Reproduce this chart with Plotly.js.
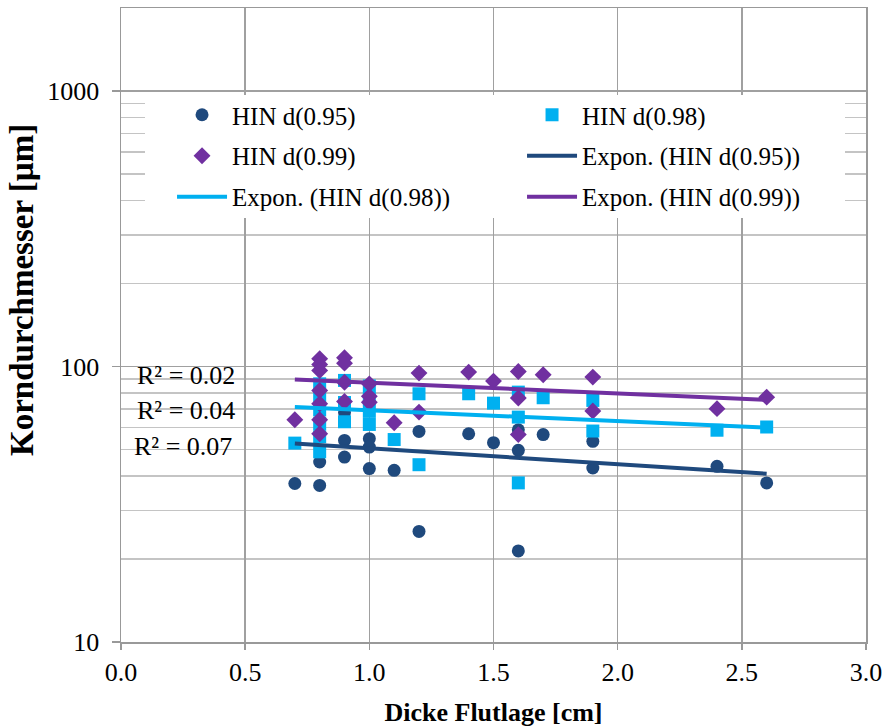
<!DOCTYPE html>
<html><head><meta charset="utf-8">
<script src="https://cdn.plot.ly/plotly-3.0.1.min.js"></script>
<style>html,body{margin:0;padding:0;background:#fff}#chart{width:883px;height:727px}</style>
</head><body><div id="chart"></div>
<script>
// HIN d(0.95) - circles
const x95 = [0.7, 0.8, 0.8, 0.9, 0.9, 0.9, 1.0, 1.0, 1.0, 1.1, 1.2, 1.2, 1.4, 1.5, 1.6, 1.6, 1.6, 1.7, 1.9, 1.9, 2.4, 2.6];
const y95 = [37.6, 37.0, 45.0, 53.9, 46.9, 68.0, 54.7, 51.0, 42.6, 42.0, 58.1, 25.2, 57.0, 52.9, 58.9, 49.6, 21.4, 56.6, 53.5, 42.8, 43.4, 37.8];
// HIN d(0.98) - squares
const x98 = [0.7, 0.8, 0.8, 0.8, 0.8, 0.8, 0.8, 0.9, 0.9, 0.9, 1.0, 1.0, 1.0, 1.0, 1.1, 1.2, 1.2, 1.4, 1.5, 1.6, 1.6, 1.6, 1.7, 1.9, 1.9, 2.4, 2.6];
const y98 = [52.7, 86.5, 78.0, 69.5, 62.0, 55.6, 49.0, 89.0, 74.0, 63.0, 85.0, 76.5, 68.7, 61.6, 54.3, 79.6, 44.0, 79.6, 73.6, 80.7, 65.5, 37.8, 77.0, 75.3, 58.3, 58.7, 60.3];
// HIN d(0.99) - diamonds
const x99 = [0.7, 0.8, 0.8, 0.8, 0.8, 0.8, 0.8, 0.8, 0.9, 0.9, 0.9, 0.9, 1.0, 1.0, 1.0, 1.1, 1.2, 1.2, 1.4, 1.5, 1.6, 1.6, 1.6, 1.7, 1.9, 1.9, 2.4, 2.6];
const y99 = [64.1, 106.6, 101.7, 96.7, 81.8, 73.2, 64.1, 57.0, 107.5, 102.8, 87.7, 74.7, 86.5, 77.9, 74.2, 62.5, 94.6, 68.3, 95.4, 88.5, 95.9, 76.8, 56.6, 93.3, 91.5, 68.9, 70.3, 77.4];
// Exponential trend lines (end points)
const trendX = [0.7, 2.6];
const trend95 = [52.5, 40.8];
const trend98 = [71.2, 60.0];
const trend99 = [89.7, 75.7];
// Labels
const seriesNames = ['HIN d(0.95)', 'HIN d(0.98)', 'HIN d(0.99)', 'Expon. (HIN d(0.95))', 'Expon. (HIN d(0.98))', 'Expon. (HIN d(0.99))'];
const r2Labels = ['R² = 0.02', 'R² = 0.04', 'R² = 0.07'];
const xTitle = 'Dicke Flutlage [cm]';
const yTitle = 'Korndurchmesser [µm]';

const FONT = "'Liberation Serif', 'Times New Roman', serif";
const C95 = '#1f497d', C98 = '#00b0f0', C99 = '#7030a0';
const YMAX_LOG = Math.log10(2000);

const traces = [
  {type:'scatter', mode:'markers', name:seriesNames[0], x:x95, y:y95, marker:{symbol:'circle', size:13, color:C95}, legend:'legend'},
  {type:'scatter', mode:'markers', name:seriesNames[1], x:x98, y:y98, marker:{symbol:'square', size:13, color:C98}, legend:'legend'},
  {type:'scatter', mode:'markers', name:seriesNames[2], x:x99, y:y99, marker:{symbol:'diamond', size:13, color:C99}, legend:'legend2'},
  {type:'scatter', mode:'lines', name:seriesNames[3], x:trendX, y:trend95, line:{color:C95, width:4}, legend:'legend2'},
  {type:'scatter', mode:'lines', name:seriesNames[4], x:trendX, y:trend98, line:{color:C98, width:4}, legend:'legend3'},
  {type:'scatter', mode:'lines', name:seriesNames[5], x:trendX, y:trend99, line:{color:C99, width:4}, legend:'legend3'}
];

const legBase = {orientation:'h', entrywidth:285, entrywidthmode:'pixels', itemwidth:50,
  bgcolor:'rgba(0,0,0,0)', borderwidth:0, font:{family:FONT, size:25, color:'#000'},
  x:0.0685, xanchor:'left', yanchor:'middle', traceorder:'normal'};

const layout = {
  width:883, height:727,
  margin:{l:121, r:17, t:8, b:85},
  paper_bgcolor:'#fff', plot_bgcolor:'#fff',
  font:{family:FONT, color:'#000'},
  showlegend:true,
  legend:Object.assign({}, legBase, {y:0.8312}),
  legend2:Object.assign({}, legBase, {y:0.7666}),
  legend3:Object.assign({}, legBase, {y:0.7019}),
  xaxis:{range:[0,3], dtick:0.5, tick0:0, tickformat:'.1f', showgrid:true, gridcolor:'#a0a0a0', gridwidth:1.5,
    zeroline:false, showline:true, linecolor:'#999', linewidth:1.5, mirror:true,
    ticks:'outside', ticklen:6, tickcolor:'#999', tickwidth:1.5,
    tickfont:{family:FONT, size:26, color:'#000'},
    title:{text:'<b>'+xTitle+'</b>', font:{family:FONT, size:26, color:'#000'}, standoff:18}},
  yaxis:{type:'log', range:[1, YMAX_LOG], dtick:1, exponentformat:'none', showgrid:true, gridcolor:'#a0a0a0', gridwidth:1.5,
    zeroline:false, showline:true, linecolor:'#999', linewidth:1.5, mirror:true,
    ticks:'outside', ticklen:8, tickcolor:'#999', tickwidth:1.5, ticklabelstandoff:7,
    tickfont:{family:FONT, size:26, color:'#000'},
    minor:{dtick:'D1', showgrid:true, gridcolor:'#c4c4c4', gridwidth:1.5, ticks:''}},
  // white legend background box
  shapes:[{type:'rect', xref:'paper', yref:'paper', layer:'above',
    x0:0.0322, x1:0.9718, y0:0.6688, y1:0.8628,
    fillcolor:'#ffffff', line:{width:0}}],
  annotations:[
    {xref:'paper', yref:'paper', x:0.0872, y:0.4211, text:r2Labels[0], showarrow:false, xanchor:'center', yanchor:'middle', font:{family:FONT, size:26, color:'#000'}},
    {xref:'paper', yref:'paper', x:0.0872, y:0.3659, text:r2Labels[1], showarrow:false, xanchor:'center', yanchor:'middle', font:{family:FONT, size:26, color:'#000'}},
    {xref:'paper', yref:'paper', x:0.0832, y:0.3076, text:r2Labels[2], showarrow:false, xanchor:'center', yanchor:'middle', font:{family:FONT, size:26, color:'#000'}},
    {xref:'paper', yref:'paper', x:-0.1329, y:0.5552, text:'<b>'+yTitle+'</b>', textangle:-90, showarrow:false, xanchor:'center', yanchor:'middle', font:{family:FONT, size:33, color:'#000'}}
  ]
};

Plotly.newPlot('chart', traces, layout, {displayModeBar:false, staticPlot:true});
</script>
</body></html>
